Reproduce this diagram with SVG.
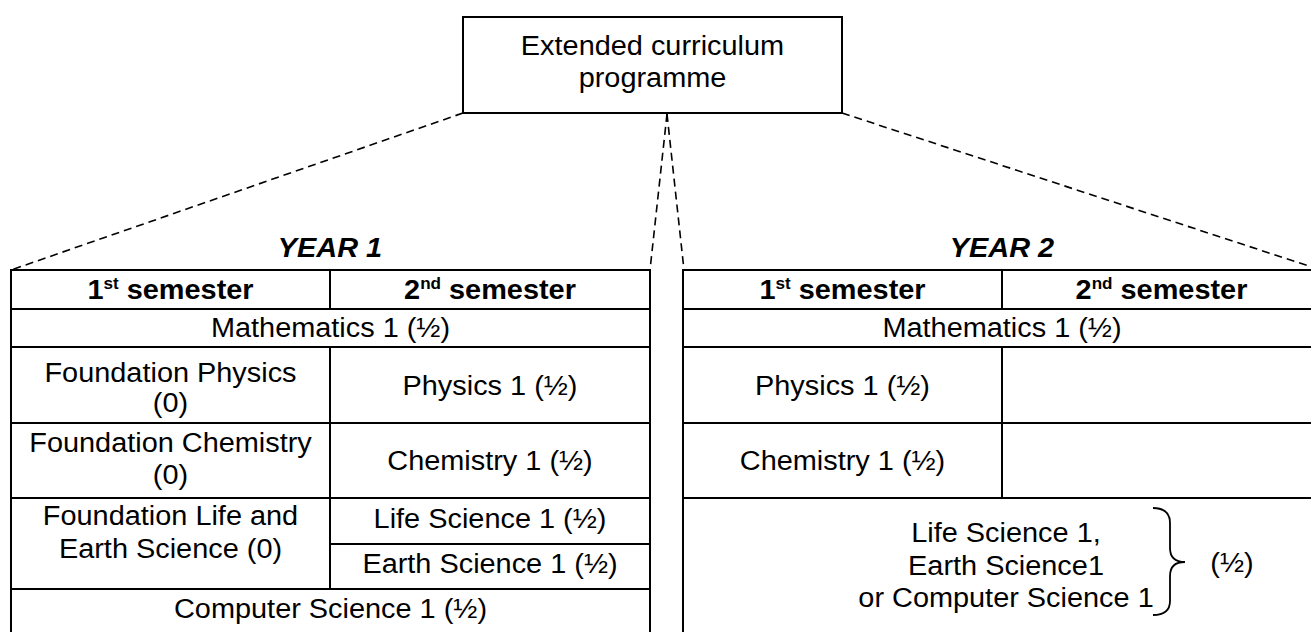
<svg xmlns="http://www.w3.org/2000/svg" width="1311" height="632" viewBox="0 0 1311 632">
  <style>
    .box { fill: #fff; stroke: #000; stroke-width: 2; }
    .rule { stroke: #000; stroke-width: 2; fill: none; }
    .dash { stroke: #000; stroke-width: 1.6; stroke-dasharray: 8 5; fill: none; }
    .brace { stroke: #000; stroke-width: 1.8; fill: none; }
    text { font-family: "Liberation Sans", Arial, sans-serif; font-size: 27px; fill: #000; text-anchor: middle; }
    .hd { font-weight: bold; }
    .yr { font-weight: bold; font-style: italic; }
    .sup { font-size: 16px; }
  </style>
  <rect width="1311" height="632" fill="#fff"/>

  <!-- connectors: programme box to the two year tables -->
  <g id="connectors">
    <line class="dash" x1="463" y1="113" x2="11" y2="270"/>
    <line class="dash" x1="667" y1="114" x2="650" y2="270"/>
    <line class="dash" x1="667" y1="114" x2="684" y2="270"/>
    <line class="dash" x1="842" y1="113" x2="1321" y2="270"/>
  </g>

  <!-- root node -->
  <g id="programme">
    <rect class="box" x="463" y="17" width="379" height="96"/>
    <text transform="translate(652.5 55) scale(1.07 1)">Extended curriculum</text>
    <text transform="translate(652.5 87) scale(1.07 1)">programme</text>
  </g>

  <!-- first year -->
  <g id="year1">
    <text class="yr" transform="translate(330 257) scale(1.07 1)">YEAR 1</text>
    <rect class="rule" x="11" y="270" width="639" height="380"/>
    <line class="rule" x1="11" y1="309" x2="650" y2="309"/>
    <line class="rule" x1="11" y1="347" x2="650" y2="347"/>
    <line class="rule" x1="11" y1="423" x2="650" y2="423"/>
    <line class="rule" x1="11" y1="498" x2="650" y2="498"/>
    <line class="rule" x1="330" y1="544" x2="650" y2="544"/>
    <line class="rule" x1="11" y1="589" x2="650" y2="589"/>
    <line class="rule" x1="330" y1="270" x2="330" y2="309"/>
    <line class="rule" x1="330" y1="347" x2="330" y2="589"/>

    <text class="hd" transform="translate(170.5 299) scale(1.07 1)">1<tspan class="sup" dy="-10">st</tspan><tspan dy="10"> semester</tspan></text>
    <text class="hd" transform="translate(490 299) scale(1.07 1)">2<tspan class="sup" dy="-10">nd</tspan><tspan dy="10"> semester</tspan></text>
    <text transform="translate(330.5 337) scale(1.07 1)">Mathematics 1 (½)</text>
    <text transform="translate(170.5 382) scale(1.07 1)">Foundation Physics</text>
    <text transform="translate(170.5 412) scale(1.07 1)">(0)</text>
    <text transform="translate(490 395) scale(1.07 1)">Physics 1 (½)</text>
    <text transform="translate(170.5 452) scale(1.07 1)">Foundation Chemistry</text>
    <text transform="translate(170.5 484) scale(1.07 1)">(0)</text>
    <text transform="translate(490 470) scale(1.07 1)">Chemistry 1 (½)</text>
    <text transform="translate(170.5 525) scale(1.07 1)">Foundation Life and</text>
    <text transform="translate(170.5 558) scale(1.07 1)">Earth Science (0)</text>
    <text transform="translate(490 528) scale(1.07 1)">Life Science 1 (½)</text>
    <text transform="translate(490 573) scale(1.07 1)">Earth Science 1 (½)</text>
    <text transform="translate(330.5 618) scale(1.07 1)">Computer Science 1 (½)</text>
  </g>

  <!-- second year -->
  <g id="year2">
    <text class="yr" transform="translate(1002 257) scale(1.07 1)">YEAR 2</text>
    <rect class="rule" x="683" y="270" width="640" height="380"/>
    <line class="rule" x1="683" y1="309" x2="1323" y2="309"/>
    <line class="rule" x1="683" y1="347" x2="1323" y2="347"/>
    <line class="rule" x1="683" y1="423" x2="1323" y2="423"/>
    <line class="rule" x1="683" y1="498" x2="1323" y2="498"/>
    <line class="rule" x1="1002" y1="270" x2="1002" y2="309"/>
    <line class="rule" x1="1002" y1="347" x2="1002" y2="498"/>

    <text class="hd" transform="translate(842.5 299) scale(1.07 1)">1<tspan class="sup" dy="-10">st</tspan><tspan dy="10"> semester</tspan></text>
    <text class="hd" transform="translate(1161.5 299) scale(1.07 1)">2<tspan class="sup" dy="-10">nd</tspan><tspan dy="10"> semester</tspan></text>
    <text transform="translate(1002 337) scale(1.07 1)">Mathematics 1 (½)</text>
    <text transform="translate(842.5 395) scale(1.07 1)">Physics 1 (½)</text>
    <text transform="translate(842.5 470) scale(1.07 1)">Chemistry 1 (½)</text>
    <text transform="translate(1006 542) scale(1.07 1)">Life Science 1,</text>
    <text transform="translate(1006 575) scale(1.07 1)">Earth Science1</text>
    <text transform="translate(1006 607) scale(1.07 1)">or Computer Science 1</text>
    <path class="brace" d="M1153,508 Q1170,508 1170,523 L1170,548 Q1170,562 1185,562 Q1170,562 1170,576 L1170,601 Q1170,615 1153,615"/>
    <text transform="translate(1232 572) scale(1.07 1)">(½)</text>
  </g>
</svg>
